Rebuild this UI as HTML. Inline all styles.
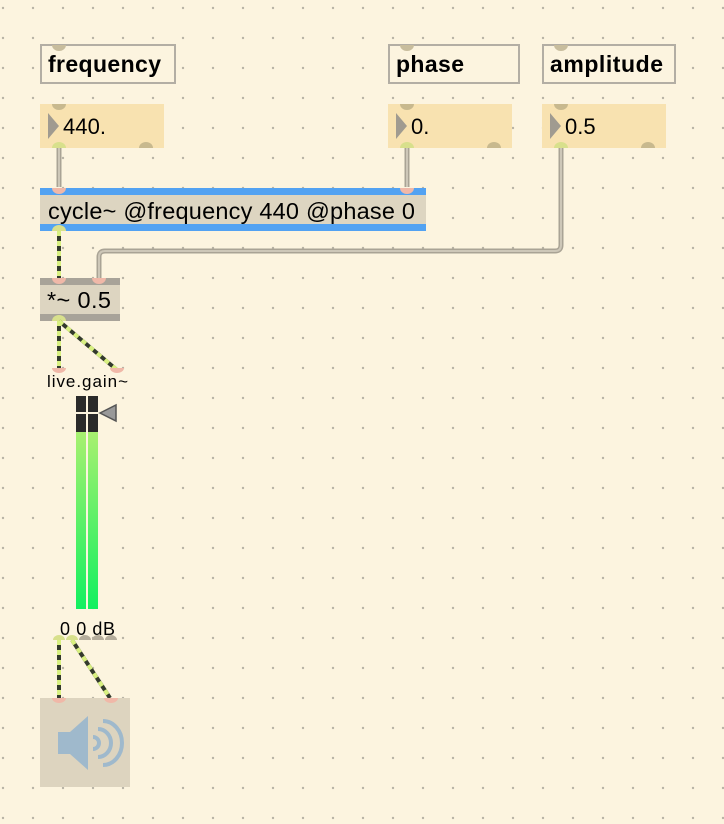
<!DOCTYPE html>
<html><head><meta charset="utf-8"><style>
html,body{margin:0;padding:0;background:#fcf4df;}
svg{display:block}
text{font-family:"Liberation Sans",sans-serif;}
</style></head><body>
<svg width="724" height="824" viewBox="0 0 724 824" xmlns="http://www.w3.org/2000/svg">
<defs>
<pattern id="g" x="0" y="0" width="30" height="30" patternUnits="userSpaceOnUse">
<circle cx="3" cy="8" r="1.2" fill="#b8b3a5"/>
</pattern>
</defs>
<rect width="724" height="824" fill="#fcf4df"/>
<rect width="724" height="824" fill="url(#g)"/>

<g fill="#fcf4df" stroke="#b3aea4" stroke-width="2">
<rect x="41" y="45" width="134" height="38"/>
<rect x="389" y="45" width="130" height="38"/>
<rect x="543" y="45" width="132" height="38"/>
</g>
<g fill="#c8bd9d">
<path d="M52 45 a7 6 0 0 0 14 0z"/>
<path d="M400 45 a7 6 0 0 0 14 0z"/>
<path d="M554 45 a7 6 0 0 0 14 0z"/>
</g>
<g font-size="23" font-weight="bold" fill="#000">
<text x="48" y="72" textLength="113">frequency</text>
<text x="396" y="72" textLength="68">phase</text>
<text x="550" y="72" textLength="113">amplitude</text>
</g>

<g fill="#f8e2b0">
<rect x="40" y="104" width="124" height="44"/>
<rect x="388" y="104" width="124" height="44"/>
<rect x="542" y="104" width="124" height="44"/>
</g>
<g fill="#c8b98e">
<path d="M52 104 a7 6 0 0 0 14 0z"/><path d="M139 148 a7 6 0 0 1 14 0z"/>
<path d="M400 104 a7 6 0 0 0 14 0z"/><path d="M487 148 a7 6 0 0 1 14 0z"/>
<path d="M554 104 a7 6 0 0 0 14 0z"/><path d="M641 148 a7 6 0 0 1 14 0z"/>
</g>
<g fill="#d8e08c">
<path d="M52 148 a7 6 0 0 1 14 0z"/><path d="M400 148 a7 6 0 0 1 14 0z"/><path d="M554 148 a7 6 0 0 1 14 0z"/>
</g>
<g fill="#a09b90">
<path d="M48 113 L59 126 L48 139z"/><path d="M396 113 L407 126 L396 139z"/><path d="M550 113 L561 126 L550 139z"/>
</g>
<g font-size="22" fill="#000">
<text x="63" y="134" textLength="43">440.</text>
<text x="411" y="134">0.</text>
<text x="565" y="134">0.5</text>
</g>

<g fill="none" stroke="#a9a395" stroke-width="5" stroke-linejoin="round">
<path d="M59 148 V187"/><path d="M407 148 V187"/>
<path d="M561 148 V245 q0 6 -6 6 H105 q-6 0 -6 6 V278"/>
</g>
<g fill="none" stroke="#cdc7b8" stroke-width="2" stroke-linejoin="round">
<path d="M59 148 V187"/><path d="M407 148 V187"/>
<path d="M561 148 V245 q0 6 -6 6 H105 q-6 0 -6 6 V278"/>
</g>

<rect x="40" y="188" width="386" height="43" fill="#ddd5c1"/>
<rect x="40" y="188" width="386" height="7" fill="#52a2f2"/>
<rect x="40" y="224" width="386" height="7" fill="#52a2f2"/>
<text x="48" y="219" font-size="23.5" fill="#000" textLength="367">cycle~ @frequency 440 @phase 0</text>
<g fill="#f0b8a8"><path d="M52 188 a7 6 0 0 0 14 0z"/><path d="M400 188 a7 6 0 0 0 14 0z"/></g>
<path d="M52 231 a7 6 0 0 1 14 0z" fill="#d8e08c"/>

<rect x="40" y="278" width="80" height="43" fill="#ddd5c1"/>
<rect x="40" y="278" width="80" height="7" fill="#a8a399"/>
<rect x="40" y="314" width="80" height="7" fill="#a8a399"/>
<text x="47" y="308" font-size="23.5" fill="#000" textLength="64">*~ 0.5</text>
<g fill="#f0b8a8"><path d="M52 278 a7 6 0 0 0 14 0z"/><path d="M92 278 a7 6 0 0 0 14 0z"/></g>
<path d="M52 321 a7 6 0 0 1 14 0z" fill="#d8e08c"/>

<g fill="none" stroke-width="4">
<g stroke="#333a2c"><path d="M59 231 V278"/><path d="M59 321 V370"/><path d="M59 321 L117 370"/><path d="M59 640 V698"/><path d="M72 640 L110 698"/></g>
<g stroke="#d8f080" stroke-dasharray="5 5"><path d="M59 231 V278"/><path d="M59 321 V370"/><path d="M59 321 L117 370"/><path d="M59 640 V698"/><path d="M72 640 L110 698"/></g>
</g>

<g fill="#f0b8a8"><path d="M52 368 a7 5 0 0 0 14 0z"/><path d="M110 368 a7 5 0 0 0 14 0z"/></g>
<text x="47" y="387" font-size="17" fill="#000" textLength="81">live.gain~</text>
<defs><linearGradient id="m" x1="0" y1="0" x2="0" y2="1"><stop offset="0" stop-color="#a8f070"/><stop offset="1" stop-color="#12f060"/></linearGradient></defs>
<rect x="76" y="396" width="10" height="36" fill="#2a2a2a"/>
<rect x="88" y="396" width="10" height="36" fill="#2a2a2a"/>
<rect x="76" y="412" width="22" height="2" fill="#fcf4df"/>
<rect x="76" y="432" width="10" height="177" fill="url(#m)"/>
<rect x="88" y="432" width="10" height="177" fill="url(#m)"/>
<path d="M100 413 L116 405 L116 421z" fill="#999" stroke="#555" stroke-width="1.5"/>
<text x="60" y="635" font-size="18" fill="#000" textLength="55">0 0 dB</text>
<g fill="#d8e08c"><path d="M53 640 a6 5 0 0 1 12 0z"/><path d="M66 640 a6 5 0 0 1 12 0z"/></g>
<g fill="#b5ad9b"><path d="M79 640 a6 5 0 0 1 12 0z"/><path d="M92 640 a6 5 0 0 1 12 0z"/><path d="M105 640 a6 5 0 0 1 12 0z"/></g>

<rect x="40" y="698" width="90" height="89" fill="#ddd4bf"/>
<g fill="#f0b8a8"><path d="M52 698 a7 5 0 0 0 14 0z"/><path d="M104 698 a7 5 0 0 0 14 0z"/></g>
<path d="M58 732 H70 L88 716 V770 L70 754 H58z" fill="#9fb9cc"/>
<g fill="none" stroke="#9fb9cc" stroke-width="4">
<path d="M93 737 a6 6 0 0 1 0 12"/>
<path d="M98 729 a13 14 0 0 1 0 28"/>
<path d="M103 721 a19 22 0 0 1 0 44"/>
</g>
</svg>
</body></html>
